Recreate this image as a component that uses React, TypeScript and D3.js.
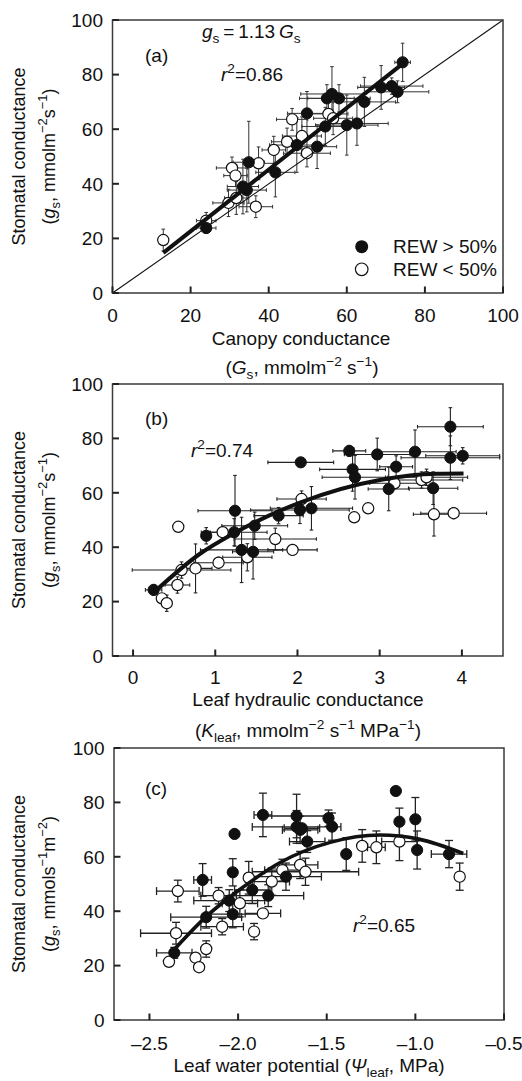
import React from 'react';
import * as d3 from 'd3';

const W = 522;
const H = 1081;
const FONT = '"Liberation Sans", Arial, Helvetica, sans-serif';
const FS = 19;

// ---------- data: [x, y, xErr, yErr] ----------
// Panel (a): stomatal vs canopy conductance
const aFilled: number[][] = [
  [24, 23.8, 2.5, 2],
  [34.4, 37.7, 5, 8],
  [33.4, 39, 4, 10],
  [34.9, 47.9, 4, 15],
  [41.7, 44.2, 5, 9],
  [47.2, 54.2, 7, 10],
  [49.8, 65.8, 5, 8],
  [52.4, 53.6, 5, 8],
  [54.5, 61, 6, 7],
  [54.9, 71.3, 7, 5],
  [56.2, 72.9, 8, 10],
  [58, 71.3, 8, 5],
  [60, 61.5, 8, 11],
  [62.6, 62.1, 8, 8],
  [64.5, 70, 8, 9],
  [68.8, 75.3, 6, 8],
  [71.5, 75.8, 8, 3],
  [73, 73.7, 8, 4],
  [74.3, 84.5, 2, 7],
];
const aOpen: number[][] = [
  [13, 19.4, 0, 4],
  [24, 26.5, 2.5, 3],
  [29.7, 33, 4, 5],
  [31.7, 34.8, 3, 6],
  [36.7, 31.6, 4.3, 4],
  [30.6, 45.8, 4, 4],
  [31.5, 43, 3, 4],
  [37.4, 47.5, 4, 6],
  [41.3, 52.4, 3, 5],
  [44.7, 55.4, 4, 5],
  [46, 63.6, 4, 4],
  [48.5, 57.5, 5, 7],
  [49.8, 51.2, 6, 5],
  [55.3, 65.6, 5, 5],
  [56.5, 64, 5, 6],
];
const aFit: number[][] = [[13, 14.7], [74.5, 84.2]];
const aOneToOne: number[][] = [[0, 0], [100, 100]];

// Panel (b): stomatal vs leaf hydraulic conductance
const bFilled: number[][] = [
  [0.25, 24.3, 0.1, 2],
  [0.89, 44.2, 0.05, 3],
  [1.24, 53.4, 0.45, 13],
  [1.23, 45.5, 0.4, 5],
  [1.32, 39, 0.5, 12],
  [1.46, 38.3, 0.25, 10],
  [1.48, 47.9, 0.4, 5],
  [1.77, 51.6, 0.3, 3],
  [2.04, 71.2, 0.4, 1.5],
  [2.03, 53.7, 0.6, 5],
  [2.17, 54.3, 0.5, 8],
  [2.63, 75.4, 0.2, 2],
  [2.67, 68.6, 0.4, 8],
  [2.7, 65.7, 0.4, 8],
  [2.97, 74.1, 0.4, 6],
  [3.2, 69.6, 0.2, 4],
  [3.11, 61.4, 0.25, 8],
  [3.43, 75.1, 0.5, 8],
  [3.65, 61.7, 0.3, 6],
  [3.86, 84.3, 0.4, 7],
  [3.86, 72.9, 0.6, 8],
  [4.01, 73.6, 0.45, 3],
];
const bOpen: number[][] = [
  [0.35, 21.2, 0, 0],
  [0.41, 19.4, 0, 3],
  [0.54, 26.1, 0.15, 3],
  [0.59, 31.6, 0.6, 3],
  [0.55, 47.5, 0, 0],
  [0.76, 32.2, 0.2, 9],
  [1.04, 34.3, 0.3, 2],
  [1.09, 45.5, 0.15, 0],
  [1.39, 36.3, 0.3, 5],
  [1.73, 43, 0.5, 4],
  [1.94, 39, 0.3, 2],
  [2.05, 57.7, 0.3, 3],
  [2.69, 51, 0, 0],
  [2.86, 54.3, 0, 0],
  [3.18, 63.5, 0.3, 2],
  [3.51, 64.7, 0.5, 3],
  [3.57, 65.7, 0.5, 3],
  [3.66, 52.1, 0.25, 8],
  [3.9, 52.5, 0.4, 2],
];
const bFit: number[][] = [
  [0.25, 23.3], [0.81, 37.5], [1.22, 45], [2.03, 56.4], [3, 64.7], [3.7, 67], [4.02, 67.1],
];

// Panel (c): stomatal conductance vs leaf water potential
const cFilled: number[][] = [
  [-2.36, 24.7, 0.1, 2],
  [-2.2, 51.5, 0.05, 6],
  [-2.18, 37.8, 0.2, 4],
  [-2.05, 43.9, 0.2, 4],
  [-2.03, 38.9, 0.15, 5],
  [-2.03, 54.3, 0, 5],
  [-2.02, 68.4, 0, 0],
  [-1.92, 47.8, 0.1, 5],
  [-1.86, 75.4, 0.05, 8],
  [-1.83, 45.7, 0.2, 4],
  [-1.73, 52.7, 0.2, 5],
  [-1.67, 75, 0.2, 8],
  [-1.67, 71, 0.25, 6],
  [-1.65, 69.9, 0.1, 5],
  [-1.64, 70.5, 0.1, 0],
  [-1.61, 65.6, 0.1, 4],
  [-1.49, 74.2, 0, 3],
  [-1.47, 71.1, 0, 5],
  [-1.39, 61, 0, 6],
  [-1.11, 84.2, 0, 0],
  [-1.09, 72.9, 0, 5],
  [-1.0, 73.8, 0, 8],
  [-0.99, 62.5, 0, 7],
  [-0.81, 61, 0.1, 5],
];
const cOpen: number[][] = [
  [-2.39, 21.4, 0, 0],
  [-2.35, 31.9, 0.2, 4],
  [-2.34, 47.4, 0.12, 4],
  [-2.24, 22.9, 0, 0],
  [-2.22, 19.4, 0, 0],
  [-2.18, 26.1, 0, 3],
  [-2.09, 34.3, 0.12, 3],
  [-2.11, 45.7, 0.1, 3],
  [-1.99, 42.9, 0.1, 5],
  [-1.94, 52.3, 0, 6],
  [-1.91, 32.5, 0, 3],
  [-1.86, 39.2, 0.1, 0],
  [-1.81, 50.9, 0.1, 5],
  [-1.75, 55.1, 0.1, 4],
  [-1.65, 57, 0.1, 5],
  [-1.62, 54.5, 0.3, 5],
  [-1.3, 64, 0, 6],
  [-1.22, 63.5, 0.05, 6],
  [-1.09, 65.6, 0.1, 7],
  [-0.75, 52.7, 0, 5],
];
const cFit: number[][] = [
  [-2.38, 24.5], [-2.18, 38], [-2.0, 47.5], [-1.76, 58], [-1.48, 65.3], [-1.2, 68], [-0.98, 66.5], [-0.73, 61.2],
];

// ticks
const aXTicks = [0, 20, 40, 60, 80, 100];
const bXTicks = [0, 1, 2, 3, 4];
const cXTicks = [-2.5, -2.0, -1.5, -1.0, -0.5];
const yTicks = [0, 20, 40, 60, 80, 100];

type Seg = { t: string; i?: boolean; s?: 'sub' | 'sup' };

function Rich({ segs, x, y, anchor = 'start', size = FS, transform }: { segs: Seg[]; x: number; y: number; anchor?: string; size?: number; transform?: string }) {
  let prev = 0;
  return (
    <text x={x} y={y} textAnchor={anchor as any} fontSize={size} fontFamily={FONT} fill="#111" transform={transform}>
      {segs.map((g, k) => {
        const shift = g.s === 'sub' ? size * 0.26 : g.s === 'sup' ? -size * 0.42 : 0;
        const dy = shift - prev;
        prev = shift;
        return (
          <tspan key={k} dy={dy} fontStyle={g.i ? 'italic' : 'normal'} fontSize={g.s ? size * 0.72 : size}>
            {g.t}
          </tspan>
        );
      })}
    </text>
  );
}

type PanelProps = {
  left: number; right: number; top: number; bottom: number;
  xDomain: [number, number];
  xTicks: number[];
  fmt: (v: number) => string;
  filled: number[][];
  open: number[][];
  fit: number[][];
  extraLine?: number[][];
  cap: number;
  barColor: string;
  barWidth: number;
  fitWidth: number;
  tickLabelOffset: number;
};

function Panel(p: PanelProps) {
  const x = d3.scaleLinear().domain(p.xDomain).range([p.left, p.right]);
  const y = d3.scaleLinear().domain([0, 100]).range([p.bottom, p.top]);
  const line = d3.line<number[]>().x(d => x(d[0])).y(d => y(d[1])).curve(d3.curveMonotoneX);
  const lin = d3.line<number[]>().x(d => x(d[0])).y(d => y(d[1]));
  const all = [...p.filled, ...p.open];
  const r = 5.6;
  return (
    <g>
      <g stroke={p.barColor} strokeWidth={p.barWidth} fill="none">
        {all.map((d, i) => {
          const cx = x(d[0]);
          const cy = y(d[1]);
          const els: any[] = [];
          if (d[2] > 0) {
            const x1 = x(d[0] - d[2]);
            const x2 = x(d[0] + d[2]);
            els.push(<line key="h" x1={x1} x2={x2} y1={cy} y2={cy} />);
            els.push(<line key="h1" x1={x1} x2={x1} y1={cy - p.cap} y2={cy + p.cap} />);
            els.push(<line key="h2" x1={x2} x2={x2} y1={cy - p.cap} y2={cy + p.cap} />);
          }
          if (d[3] > 0) {
            const y1 = y(d[1] + d[3]);
            const y2 = y(d[1] - d[3]);
            els.push(<line key="v" x1={cx} x2={cx} y1={y1} y2={y2} />);
            els.push(<line key="v1" x1={cx - p.cap} x2={cx + p.cap} y1={y1} y2={y1} />);
            els.push(<line key="v2" x1={cx - p.cap} x2={cx + p.cap} y1={y2} y2={y2} />);
          }
          return <g key={i}>{els}</g>;
        })}
      </g>
      {p.open.map((d, i) => (
        <circle key={'o' + i} cx={x(d[0])} cy={y(d[1])} r={r} fill="#fff" stroke="#111" strokeWidth={1.2} />
      ))}
      {p.filled.map((d, i) => (
        <circle key={'f' + i} cx={x(d[0])} cy={y(d[1])} r={r} fill="#111" stroke="#111" strokeWidth={1} />
      ))}
      {p.extraLine && <path d={lin(p.extraLine) || ''} stroke="#111" strokeWidth={1.1} fill="none" />}
      <path d={(p.fit.length > 2 ? line(p.fit) : lin(p.fit)) || ''} stroke="#111" strokeWidth={p.fitWidth} fill="none" strokeLinecap="butt" />
      <rect x={p.left} y={p.top} width={p.right - p.left} height={p.bottom - p.top} fill="none" stroke="#3a3a3a" strokeWidth={1.5} />
      <g stroke="#222" strokeWidth={2}>
        {p.xTicks.map(t => (
          <line key={'xt' + t} x1={x(t)} x2={x(t)} y1={p.bottom} y2={p.bottom - 6.5} />
        ))}
        {yTicks.map(t => (
          <line key={'yt' + t} x1={p.left} x2={p.left + 6.5} y1={y(t)} y2={y(t)} />
        ))}
      </g>
      <g fontFamily={FONT} fontSize={FS} fill="#111">
        {p.xTicks.map(t => (
          <text key={'xl' + t} x={x(t)} y={p.bottom + p.tickLabelOffset} textAnchor="middle">{p.fmt(t)}</text>
        ))}
        {yTicks.map(t => (
          <text key={'yl' + t} x={p.left - 9.5} y={y(t) + 6.8} textAnchor="end">{String(t)}</text>
        ))}
      </g>
    </g>
  );
}

const gsSegs: Seg[] = [{ t: '(' }, { t: 'g', i: true }, { t: 's', s: 'sub' }, { t: ', mmolm' }, { t: '−2', s: 'sup' }, { t: 's' }, { t: '−1', s: 'sup' }, { t: ')' }];
const gsSegsC: Seg[] = [{ t: '(' }, { t: 'g', i: true }, { t: 's', s: 'sub' }, { t: ', mmols' }, { t: '−1', s: 'sup' }, { t: 'm' }, { t: '−2', s: 'sup' }, { t: ')' }];

function YLabel({ cy, segs }: { cy: number; segs: Seg[] }) {
  return (
    <g>
      <text x={0} y={0} transform={`translate(25,${cy}) rotate(-90)`} textAnchor="middle" fontFamily={FONT} fontSize={18} fill="#111">Stomatal conductance</text>
      <Rich segs={segs} x={0} y={0} anchor="middle" size={18} transform={`translate(55,${cy}) rotate(-90)`} />
    </g>
  );
}

export default function App() {
  const fmtInt = (v: number) => String(v);
  const fmtC = (v: number) => v.toFixed(1).replace('-', '–');
  return (
    <svg width={W} height={H} style={{ position: 'absolute', left: 0, top: 0, background: '#fff' }}>
      <rect x={0} y={0} width={W} height={H} fill="#fff" />
      {/* Panel a */}
      <Panel left={112.5} right={503} top={20} bottom={293} xDomain={[0, 100]} xTicks={aXTicks} fmt={fmtInt}
        filled={aFilled} open={aOpen} fit={aFit} extraLine={aOneToOne} cap={1.8} barColor="#333" barWidth={1} fitWidth={4} tickLabelOffset={28.5} />
      <YLabel cy={156.5} segs={gsSegs} />
      <text x={145} y={62} fontFamily={FONT} fontSize={FS} fill="#111">(a)</text>
      <Rich x={202} y={38} segs={[{ t: 'g', i: true }, { t: 's', s: 'sub' }, { t: '\u2009=\u20091.13\u2009' }, { t: 'G', i: true }, { t: 's', s: 'sub' }]} />
      <Rich x={221} y={81} segs={[{ t: 'r', i: true }, { t: '2', s: 'sup' }, { t: '=0.86' }]} />
      <circle cx={361.7} cy={246.7} r={6.5} fill="#111" />
      <circle cx={361.7} cy={269.3} r={6.3} fill="#fff" stroke="#111" strokeWidth={1.2} />
      <text x={393} y={253} fontFamily={FONT} fontSize={FS} fill="#111">REW &gt; 50%</text>
      <text x={393} y={275.5} fontFamily={FONT} fontSize={FS} fill="#111">REW &lt; 50%</text>
      <text x={301} y={344.5} textAnchor="middle" fontFamily={FONT} fontSize={FS} fill="#111">Canopy conductance</text>
      <Rich x={302} y={374} anchor="middle" segs={[{ t: '(' }, { t: 'G', i: true }, { t: 's', s: 'sub' }, { t: ', mmolm' }, { t: '−2', s: 'sup' }, { t: ' s' }, { t: '−1', s: 'sup' }, { t: ')' }]} />

      {/* Panel b */}
      <Panel left={112.5} right={503} top={384} bottom={656} xDomain={[-0.25, 4.5]} xTicks={bXTicks} fmt={fmtInt}
        filled={bFilled} open={bOpen} fit={bFit} cap={1.8} barColor="#222" barWidth={1.1} fitWidth={4} tickLabelOffset={28} />
      <YLabel cy={520} segs={gsSegs} />
      <text x={145} y={425} fontFamily={FONT} fontSize={FS} fill="#111">(b)</text>
      <Rich x={191} y={457} segs={[{ t: 'r', i: true }, { t: '2', s: 'sup' }, { t: '=0.74' }]} />
      <text x={308} y={706} textAnchor="middle" fontFamily={FONT} fontSize={FS} fill="#111">Leaf hydraulic conductance</text>
      <Rich x={308} y={737} anchor="middle" segs={[{ t: '(' }, { t: 'K', i: true }, { t: 'leaf', s: 'sub' }, { t: ', mmolm' }, { t: '−2', s: 'sup' }, { t: ' s' }, { t: '−1', s: 'sup' }, { t: ' MPa' }, { t: '−1', s: 'sup' }, { t: ')' }]} />

      {/* Panel c */}
      <Panel left={114} right={504} top={748} bottom={1020} xDomain={[-2.7, -0.5]} xTicks={cXTicks} fmt={fmtC}
        filled={cFilled} open={cOpen} fit={cFit} cap={4} barColor="#222" barWidth={1.3} fitWidth={3.6} tickLabelOffset={29.5} />
      <YLabel cy={884} segs={gsSegsC} />
      <text x={145} y={795} fontFamily={FONT} fontSize={FS} fill="#111">(c)</text>
      <Rich x={353} y={932} segs={[{ t: 'r', i: true }, { t: '2', s: 'sup' }, { t: '=0.65' }]} />
      <Rich x={309} y={1072} anchor="middle" segs={[{ t: 'Leaf water potential (' }, { t: 'Ψ', i: true }, { t: 'leaf', s: 'sub' }, { t: ', MPa)' }]} />
    </svg>
  );
}
